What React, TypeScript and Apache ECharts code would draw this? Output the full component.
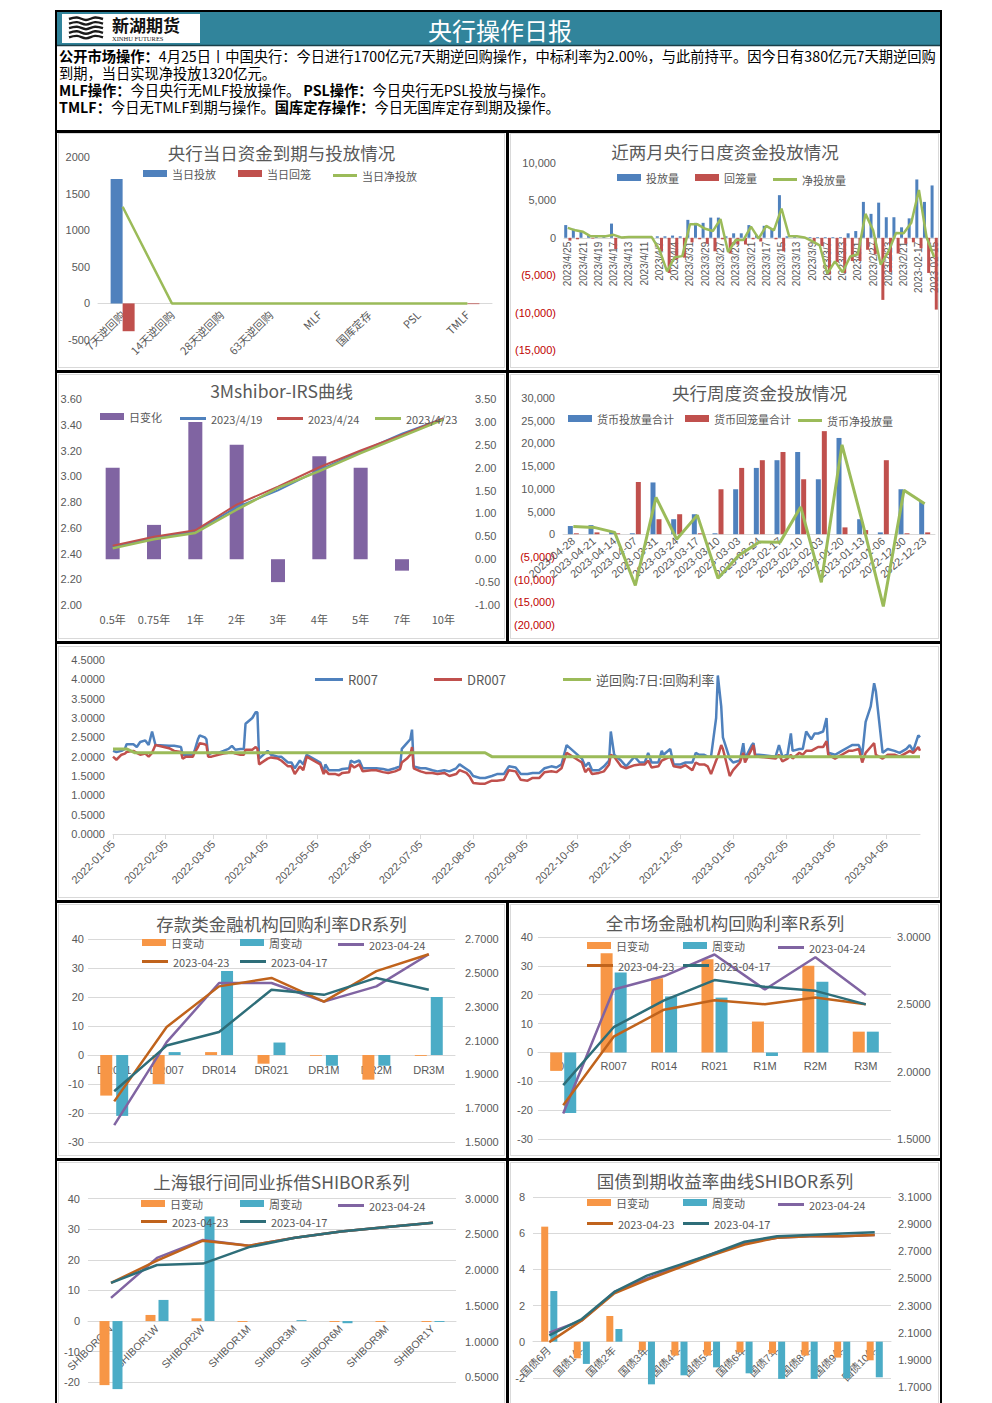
import React, { useEffect, useRef } from 'react';
import * as echarts from 'echarts';

const GRAY = '#595959';
const LINE_GRAY = '#D9D9D9';
const NEG_RED = '#C00000';
const BLUE = '#4F81BD';
const RED = '#C0504D';
const GREEN = '#9BBB59';
const PURPLE = '#8064A2';
const ORANGE = '#F79646';
const TEAL = '#4BACC6';
const BROWN = '#C0631C';
const DTEAL = '#2E6E79';
const HEADER = '#31849B';
const NUM_FONT = '"Liberation Sans", "Noto Sans CJK SC", sans-serif';
const CJK_FONT = '"Noto Sans CJK SC", "Liberation Sans", sans-serif';

// ---------- Chart 1: 央行当日资金到期与投放情况 ----------
const opCategories = ['7天逆回购', '14天逆回购', '28天逆回购', '63天逆回购', 'MLF', '国库定存', 'PSL', 'TMLF'];
const opInject = [1700, 0, 0, 0, 0, 0, 0, 0];
const opWithdraw = [-380, 0, 0, 0, 0, 0, 0, -10];
const opNet = [1320, 0, 0, 0, 0, 0, 0, 0];

// ---------- Chart 2: 近两月央行日度资金投放情况 ----------
const dailyDates = [
  '2023/4/25', '2023/4/24', '2023/4/21', '2023/4/20', '2023/4/19', '2023/4/18', '2023/4/17', '2023/4/14',
  '2023/4/13', '2023/4/12', '2023/4/11', '2023/4/10', '2023/4/7', '2023/4/6', '2023/4/4', '2023/4/3',
  '2023/3/31', '2023/3/30', '2023/3/29', '2023/3/28', '2023/3/27', '2023/3/24', '2023/3/23', '2023/3/22',
  '2023/3/21', '2023/3/20', '2023/3/17', '2023/3/16', '2023/3/15', '2023/3/14', '2023/3/13', '2023/3/10',
  '2023/3/9', '2023/3/8', '2023/3/7', '2023/3/6', '2023/3/3', '2023/3/2', '2023/3/1', '2023/2/28',
  '2023/2/27', '2023/2/24', '2023/2/23', '2023/2/22', '2023/2/21', '2023/2/20', '2023-02-17', '2023-02-16',
  '2023-02-15',
];
const dailyInject = [
  1700, 1200, 800, 300, 200, 200, 1900, 100, 100, 100, 100, 100, 200, 200, 300, 200,
  2400, 2000, 2000, 2700, 2700, 200, 600, 600, 1700, 400, 1600, 1200, 5700, 200, 200, 100,
  100, 100, 100, 100, 100, 600, 900, 4800, 3200, 4700, 2750, 2750, 1400, 2600, 7800, 4800,
  7000,
];
const dailyWithdraw = [
  -380, -200, 0, -100, 0, 0, -1500, -50, 0, 0, 0, 0, -1800, -4700, -2900, -2650,
  -600, -200, -800, -1800, -200, -2100, -900, -900, -200, -500, 0, -200, -1800, 0, 0, -50,
  -550, -1100, -4900, -3250, -4700, -3100, -3100, -1600, -2200, -8300, -4600, -2100, -800, -600, -1400, -4700,
  -9600,
];
const dailyNet = [
  1320, 1000, 800, 200, 200, 200, 400, 50, 100, 100, 100, 100, -1600, -4500, -2600, -2450,
  1800, 1800, 1200, 900, 2500, -1900, -300, -300, 1500, -100, 1600, 1000, 3900, 200, 200, 50,
  -450, -1000, -4800, -3150, -4600, -2500, -2200, 3200, 1000, -3600, -1850, 650, 600, 2000, 6400, 100,
  -2600,
];

// ---------- Chart 3: 3Mshibor-IRS曲线 ----------
const irsTenors = ['0.5年', '0.75年', '1年', '2年', '3年', '4年', '5年', '7年', '10年'];
const irsChange = [2.0, 0.75, 3.0, 2.5, -0.5, 2.25, 2.0, -0.25, 0];
const irs0419 = [2.45, 2.52, 2.57, 2.76, 2.89, 3.05, 3.19, 3.33, 3.45];
const irs0424 = [2.46, 2.53, 2.58, 2.78, 2.92, 3.07, 3.2, 3.32, 3.45];
const irs0423 = [2.44, 2.51, 2.56, 2.74, 2.91, 3.04, 3.18, 3.31, 3.44];

// ---------- Chart 4: 央行周度资金投放情况 ----------
const weekDates = [
  '2023-04-28', '2023-04-21', '2023-04-14', '2023-04-07', '2023-03-31', '2023-03-24', '2023-03-17', '2023-03-10',
  '2023-03-03', '2023-02-24', '2023-02-17', '2023-02-10', '2023-02-03', '2023-01-20', '2023-01-13', '2023-01-06',
  '2022-12-30', '2022-12-23',
];
const weekInject = [1800, 2000, 600, 200, 11400, 3300, 4400, 200, 9900, 14600, 16300, 18100, 12100, 21200, 3300, 400, 9900, 7100];
const weekWithdraw = [200, 400, 200, 11500, 3300, 4400, 200, 9900, 14600, 16300, 18100, 12100, 22700, 1500, 900, 16300, 200, 400];
const weekNet = [1700, 1500, 400, -11300, 8100, -1100, 4200, -9700, -4700, -1700, -1800, 6000, -10600, 19700, 2400, -15900, 9700, 6700];

// ---------- Chart 5: R007 / DR007 / 逆回购7日 ----------
const rateDates = [
  '2022-01-05', '2022-01-07', '2022-01-10', '2022-01-12', '2022-01-13', '2022-01-17', '2022-01-19', '2022-01-21',
  '2022-01-24', '2022-01-26', '2022-01-28', '2022-01-30', '2022-02-07', '2022-02-10', '2022-02-14', '2022-02-15',
  '2022-02-17', '2022-02-21', '2022-02-22', '2022-02-24', '2022-02-25', '2022-02-28', '2022-03-01', '2022-03-02',
  '2022-03-04', '2022-03-08', '2022-03-11', '2022-03-14', '2022-03-16', '2022-03-18', '2022-03-21', '2022-03-23',
  '2022-03-24', '2022-03-28', '2022-03-30', '2022-03-31', '2022-04-01', '2022-04-06', '2022-04-08', '2022-04-12',
  '2022-04-14', '2022-04-18', '2022-04-20', '2022-04-22', '2022-04-25', '2022-04-27', '2022-04-29', '2022-05-05',
  '2022-05-07', '2022-05-09', '2022-05-10', '2022-05-12', '2022-05-16', '2022-05-18', '2022-05-20', '2022-05-24',
  '2022-05-25', '2022-05-27', '2022-05-30', '2022-06-01', '2022-06-06', '2022-06-09', '2022-06-13', '2022-06-16',
  '2022-06-20', '2022-06-23', '2022-06-24', '2022-06-27', '2022-06-29', '2022-06-30', '2022-07-01', '2022-07-05',
  '2022-07-08', '2022-07-12', '2022-07-15', '2022-07-19', '2022-07-22', '2022-07-26', '2022-07-28', '2022-08-01',
  '2022-08-03', '2022-08-05', '2022-08-09', '2022-08-12', '2022-08-16', '2022-08-19', '2022-08-23', '2022-08-26',
  '2022-08-30', '2022-09-02', '2022-09-06', '2022-09-09', '2022-09-13', '2022-09-16', '2022-09-20', '2022-09-23',
  '2022-09-26', '2022-09-29', '2022-10-08', '2022-10-10', '2022-10-12', '2022-10-14', '2022-10-18', '2022-10-21',
  '2022-10-24', '2022-10-25', '2022-10-27', '2022-10-31', '2022-11-03', '2022-11-08', '2022-11-11', '2022-11-14',
  '2022-11-16', '2022-11-18', '2022-11-22', '2022-11-24', '2022-11-25', '2022-11-29', '2022-12-01', '2022-12-05',
  '2022-12-08', '2022-12-12', '2022-12-14', '2022-12-16', '2022-12-19', '2022-12-21', '2022-12-23', '2022-12-26',
  '2022-12-27', '2022-12-29', '2022-12-30', '2023-01-03', '2023-01-05', '2023-01-09', '2023-01-11', '2023-01-12',
  '2023-01-16', '2023-01-17', '2023-01-18', '2023-01-20', '2023-01-30', '2023-02-01', '2023-02-03', '2023-02-06',
  '2023-02-08', '2023-02-09', '2023-02-13', '2023-02-15', '2023-02-17', '2023-02-20', '2023-02-22', '2023-02-24',
  '2023-02-27', '2023-03-01', '2023-03-02', '2023-03-06', '2023-03-08', '2023-03-10', '2023-03-14', '2023-03-16',
  '2023-03-20', '2023-03-22', '2023-03-24', '2023-03-27', '2023-03-29', '2023-03-30', '2023-04-03', '2023-04-06',
  '2023-04-10', '2023-04-13', '2023-04-17', '2023-04-19', '2023-04-21', '2023-04-24', '2023-04-25',
];
const r007 = [
  2.15, 2.12, 2.15, 2.2, 2.32, 2.32, 2.25, 2.38, 2.42, 2.3, 2.65, 2.3, 2.28, 2.28, 2.25, 2.05,
  2.05, 2.05, 2.15, 2.45, 2.55, 2.5, 2.45, 2.05, 2.1, 2.1, 2.15, 2.2, 2.28, 2.18, 2.2, 2.2,
  2.85, 3.0, 3.15, 3.15, 1.95, 2.15, 2.05, 2.0, 2.0, 1.85, 1.85, 1.7, 1.9, 1.8, 2.05, 1.9,
  1.85, 1.6, 1.8, 1.65, 1.65, 1.65, 1.68, 1.7, 1.9, 1.85, 1.9, 1.7, 1.7, 1.7, 1.68, 1.65,
  1.7, 1.75, 2.2, 2.35, 2.45, 2.7, 1.75, 1.7, 1.7, 1.65, 1.62, 1.65, 1.62, 1.7, 1.8, 1.68,
  1.62, 1.5, 1.45, 1.45, 1.5, 1.55, 1.55, 1.75, 1.72, 1.55, 1.55, 1.58, 1.58, 1.7, 1.75, 1.72,
  1.8, 2.3, 1.95, 1.75, 1.85, 1.65, 1.65, 1.75, 1.9, 2.65, 2.05, 1.9, 1.75, 2.0, 1.85, 1.85,
  2.1, 1.85, 1.85, 2.15, 2.05, 2.2, 1.8, 1.8, 1.85, 1.85, 2.1, 2.05, 2.05, 2.0, 2.0, 3.0,
  4.1, 3.3, 2.5, 1.95, 1.85, 1.9, 2.35, 1.95, 2.3, 2.35, 2.05, 2.05, 2.0, 2.3, 2.0, 2.05,
  2.6, 2.15, 2.2, 2.2, 2.65, 2.45, 2.6, 2.6, 2.65, 3.0, 2.1, 2.05, 2.1, 2.15, 2.25, 2.3,
  2.3, 2.05, 2.9, 3.3, 3.9, 3.7, 2.1, 2.2, 2.15, 2.1, 2.2, 2.3, 2.15, 2.55, 2.5,
];
const dr007 = [
  2.0, 1.92, 2.05, 2.08, 2.12, 2.15, 2.1, 2.05, 2.08, 2.0, 2.1, 2.3, 2.22, 2.15, 2.12, 1.95,
  2.0, 2.0, 2.1, 2.25, 2.35, 2.32, 2.3, 2.0, 2.0, 2.05, 2.08, 2.1, 2.12, 2.08, 2.05, 2.05,
  2.18, 2.18, 2.25, 2.2, 1.8, 1.95, 1.98, 1.95, 1.9, 1.75, 1.75, 1.55, 1.75, 1.65, 2.0, 1.85,
  1.8, 1.55, 1.65, 1.55, 1.55, 1.52, 1.58, 1.6, 1.8, 1.72, 1.8, 1.62, 1.65, 1.65, 1.6, 1.58,
  1.62, 1.68, 1.85, 1.95, 2.05, 2.25, 1.7, 1.62, 1.58, 1.58, 1.55, 1.58, 1.5, 1.55, 1.65, 1.58,
  1.48, 1.32, 1.3, 1.3, 1.38, 1.38, 1.4, 1.65, 1.62, 1.4, 1.38, 1.45, 1.45, 1.6, 1.62, 1.6,
  1.7, 2.1, 1.85, 1.6, 1.7, 1.55, 1.58, 1.62, 1.8, 2.05, 2.0, 1.75, 1.7, 1.78, 1.8, 1.8,
  1.9, 1.72, 1.75, 1.9, 1.92, 2.0, 1.75, 1.72, 1.78, 1.65, 1.85, 1.8, 1.8, 1.75, 1.55, 1.9,
  2.0, 2.3, 2.2, 1.5, 1.65, 1.85, 2.1, 1.85, 2.2, 2.3, 2.0, 2.0, 1.95, 2.05, 1.88, 1.95,
  2.05, 1.95, 2.1, 2.05, 2.15, 2.15, 2.2, 2.25, 2.25, 2.4, 2.05, 1.95, 2.0, 2.05, 2.15, 2.15,
  2.2, 1.85, 2.1, 2.25, 2.35, 2.05, 1.95, 2.05, 2.05, 2.0, 2.1, 2.15, 2.1, 2.25, 2.15,
];
const repoDates = ['2022-01-05', '2022-01-13', '2022-01-18', '2022-08-12', '2022-08-16', '2023-04-25'];
const repoRate = [2.2, 2.2, 2.1, 2.1, 2.0, 2.0];
const rateTickDay = '05';

// ---------- Chart 6: DR系列 ----------
const drCats = ['DR001', 'DR007', 'DR014', 'DR021', 'DR1M', 'DR2M', 'DR3M'];
const drDay = [-14, -10, 1, -3, -0.3, -8.5, -0.3];
const drWeek = [-21, 1, 29, 4.3, -3.7, -3.7, 20];
const dr0424 = [1.6, 2.09, 2.44, 2.44, 2.33, 2.42, 2.61];
const dr0423 = [1.74, 2.18, 2.42, 2.47, 2.33, 2.51, 2.61];
const dr0417 = [1.8, 2.07, 2.15, 2.4, 2.37, 2.47, 2.4];

// ---------- Chart 7: R系列 ----------
const rCats = ['R001', 'R007', 'R014', 'R021', 'R1M', 'R2M', 'R3M'];
const rDay = [-6.4, 34.4, 25.7, 32.3, 10.7, 30, 7.2];
const rWeek = [-21, 27.7, 19.4, 19, -1.2, 24.5, 7.2];
const r0424 = [1.69, 2.61, 2.71, 2.87, 2.61, 2.85, 2.57];
const r0423 = [1.75, 2.26, 2.46, 2.53, 2.5, 2.55, 2.5];
const r0417 = [1.9, 2.33, 2.53, 2.68, 2.63, 2.6, 2.5];

// ---------- Chart 8: SHIBOR系列 ----------
const shiborCats = ['SHIBORO/N', 'SHIBOR1W', 'SHIBOR2W', 'SHIBOR1M', 'SHIBOR3M', 'SHIBOR6M', 'SHIBOR9M', 'SHIBOR1Y'];
const shiborDay = [-20.9, 2.0, 0.9, -0.3, 0, -0.3, -0.3, -0.3];
const shiborWeek = [-22.2, 6.9, 34.1, 0, 0.3, -0.7, 0, -0.3];
const sh0424 = [1.61, 2.17, 2.42, 2.34, 2.45, 2.54, 2.6, 2.66];
const sh0423 = [1.82, 2.13, 2.41, 2.34, 2.45, 2.54, 2.6, 2.66];
const sh0417 = [1.82, 2.07, 2.09, 2.32, 2.45, 2.54, 2.6, 2.66];

// ---------- Chart 9: 国债收益率 ----------
const bondCats = ['国债6月', '国债1年', '国债2年', '国债3年', '国债4年', '国债5年', '国债6年', '国债7年', '国债8年', '国债9年', '国债10年'];
const bondDay = [6.36, -0.92, 1.42, -0.48, -0.77, -0.77, -0.59, -0.65, -0.77, -0.88, -1.03];
const bondWeek = [2.8, -1.23, 0.7, -2.36, -1.86, -1.42, -1.75, -2.06, -2.06, -2.03, -1.97];
const bond0424 = [2.1, 2.19, 2.4, 2.5, 2.59, 2.68, 2.76, 2.8, 2.81, 2.81, 2.82];
const bond0423 = [2.03, 2.19, 2.39, 2.49, 2.58, 2.67, 2.75, 2.8, 2.81, 2.81, 2.82];
const bond0417 = [2.08, 2.2, 2.4, 2.52, 2.6, 2.68, 2.77, 2.81, 2.82, 2.83, 2.84];

// ---------- Header text ----------
const headerTitle = '央行操作日报';
const headerLines = [
  '{b|公开市场操作：}4月25日丨中国央行：今日进行1700亿元7天期逆回购操作，中标利率为2.00%，与此前持平。因今日有380亿元7天期逆回购',
  '到期，当日实现净投放1320亿元。',
  '{b|MLF操作：}今日央行无MLF投放操作。 {b|PSL操作：}今日央行无PSL投放与操作。',
  '{b|TMLF：}今日无TMLF到期与操作。{b|国库定存操作：}今日无国库定存到期及操作。',
];

// ---------- helpers ----------
const rateAxisDays = (() => {
  const out: string[] = [];
  const d = new Date(Date.UTC(2022, 0, 5));
  const end = Date.UTC(2023, 3, 25);
  while (d.getTime() <= end) {
    out.push(d.toISOString().slice(0, 10));
    d.setUTCDate(d.getUTCDate() + 1);
  }
  return out;
})();

const commas = (n: number) => String(Math.round(Math.abs(n))).replace(/\B(?=(\d{3})+(?!\d))/g, ',');
const acct = (v: number) => (v < 0 ? `(${commas(v)})` : commas(v));
const negColor = (v: any) => (Number(v) < 0 ? NEG_RED : GRAY);
const plain = (v: number) => String(v);

// distance of the value 0 above the bottom of a grid (used to lift the category axis to zero)
const zeroLift = (min: number, max: number, h: number) => -(h * (0 - min)) / (max - min);

const titleAt = (text: string, left: any, top: number) => ({
  text,
  left,
  top,
  padding: 0,
  textStyle: { fontSize: 17.5, fontWeight: 'normal', color: GRAY, fontFamily: CJK_FONT },
});

const legendAt = (name: string, left: number, top: number, isLine = false, fontSize = 11, itemWidth = 24) => ({
  data: [name],
  left,
  top,
  padding: 0,
  icon: 'rect',
  itemWidth,
  itemHeight: isLine ? 3 : 7,
  selectedMode: false,
  textStyle: { color: GRAY, fontSize, fontFamily: CJK_FONT },
});

const lineS = (name: string, data: any[], color: string, width = 2.5, yAxisIndex = 0) => ({
  name,
  type: 'line',
  yAxisIndex,
  data,
  symbol: 'none',
  showSymbol: false,
  lineStyle: { color, width },
  itemStyle: { color },
});

const valueAxis = (min: number, max: number, interval: number, extra: any = {}) => ({
  type: 'value',
  min,
  max,
  interval,
  axisLine: { show: false },
  axisTick: { show: false },
  splitLine: { show: extra.split === true, lineStyle: { color: LINE_GRAY } },
  position: extra.position,
  axisLabel: {
    color: extra.color || GRAY,
    fontSize: 11,
    fontFamily: NUM_FONT,
    margin: extra.margin ?? 8,
    formatter: extra.formatter || plain,
    showMinLabel: extra.hideMin ? false : undefined,
  },
});

const catAxis = (data: string[], offset: number, label: any, line = true) => ({
  type: 'category',
  data,
  offset,
  axisLine: { show: line, onZero: false, lineStyle: { color: LINE_GRAY } },
  axisTick: { show: false },
  axisLabel: { interval: 0, color: GRAY, fontSize: 11, fontFamily: CJK_FONT, ...label },
});

function Chart({ option, box }: { option: any; box: number[] }) {
  const ref = useRef<HTMLDivElement>(null);
  useEffect(() => {
    const c = echarts.init(ref.current as HTMLDivElement, null, { renderer: 'svg' });
    c.setOption(option);
    return () => c.dispose();
  }, []);
  return (
    <div
      ref={ref}
      style={{ position: 'absolute', left: box[0], top: box[1], width: box[2], height: box[3] }}
    />
  );
}

// ---------- options ----------
const headerOption = {
  animation: false,
  graphic: [
    { type: 'rect', shape: { x: 0, y: 0, width: 883, height: 33 }, style: { fill: HEADER } },
    { type: 'line', shape: { x1: 0, y1: 33.5, x2: 883, y2: 33.5 }, style: { stroke: '#1b3f48', lineWidth: 1.5 } },
    { type: 'rect', shape: { x: 5, y: 2, width: 138, height: 29 }, style: { fill: '#ffffff' } },
    ...[0, 1, 2, 3, 4].map((k) => ({
      type: 'polyline',
      shape: {
        points: [[12, 7 + k * 4.6], [20, 5.5 + k * 4.6], [29, 8 + k * 4.6], [38, 5.5 + k * 4.6], [46, 7 + k * 4.6]],
        smooth: 0.4,
      },
      style: { stroke: '#1a1a1a', lineWidth: 2.4, fill: 'none' },
    })),
    {
      type: 'text',
      x: 55,
      y: 12,
      style: {
        text: '新湖期货', fill: '#111', fontSize: 17, fontWeight: 'bold', fontFamily: CJK_FONT, lineHeight: 17,
        verticalAlign: 'middle', textVerticalAlign: 'middle',
      },
    },
    {
      type: 'text',
      x: 55,
      y: 26,
      style: {
        text: 'XINHU FUTURES', fill: '#222', fontSize: 6.5, fontFamily: '"Liberation Serif", serif', lineHeight: 7,
        verticalAlign: 'middle', textVerticalAlign: 'middle',
      },
    },
    {
      type: 'text',
      x: 443,
      y: 17,
      style: {
        text: headerTitle, fill: '#ffffff', fontSize: 24, fontFamily: CJK_FONT,
        align: 'center', textAlign: 'center', verticalAlign: 'middle', textVerticalAlign: 'middle',
      },
    },
    ...headerLines.map((t, i) => ({
      type: 'text',
      x: 2,
      y: 43 + i * 17,
      style: {
        text: t,
        fill: '#000', fontSize: 14.25, fontFamily: CJK_FONT, lineHeight: 16,
        verticalAlign: 'middle', textVerticalAlign: 'middle',
        rich: { b: { fontWeight: 'bold', fontSize: 14.25, lineHeight: 16, fontFamily: CJK_FONT, fill: '#000', color: '#000' } },
      },
    })),
  ],
};

const chart1 = {
  animation: false,
  title: titleAt('央行当日资金到期与投放情况', 'center', 11),
  legend: [legendAt('当日投放', 85, 35), legendAt('当日回笼', 180, 35), legendAt('当日净投放', 275, 37, true)],
  grid: { left: 40, top: 24, width: 394, height: 183, outerBoundsMode: 'none' },
  xAxis: catAxis(opCategories, zeroLift(-500, 2000, 183), { rotate: 45, margin: 9 }),
  yAxis: valueAxis(-500, 2000, 500),
  series: [
    { name: '当日投放', type: 'bar', data: opInject, barWidth: 12, barGap: '0%', itemStyle: { color: BLUE } },
    { name: '当日回笼', type: 'bar', data: opWithdraw, barWidth: 12, itemStyle: { color: RED } },
    lineS('当日净投放', opNet, GREEN, 2.5),
  ],
};

const chart2 = {
  animation: false,
  title: titleAt('近两月央行日度资金投放情况', 'center', 10),
  legend: [legendAt('投放量', 107, 39), legendAt('回笼量', 185, 39), legendAt('净投放量', 263, 41, true)],
  grid: { left: 54, top: 30, width: 374, height: 187, outerBoundsMode: 'none' },
  xAxis: catAxis(dailyDates, zeroLift(-15000, 10000, 187), {
    rotate: 90, interval: 1, fontSize: 10, margin: 4, fontFamily: NUM_FONT,
  }),
  yAxis: valueAxis(-15000, 10000, 5000, { formatter: acct, color: negColor }),
  series: [
    { name: '投放量', type: 'bar', data: dailyInject, barWidth: 3, barGap: '40%', itemStyle: { color: BLUE } },
    { name: '回笼量', type: 'bar', data: dailyWithdraw, barWidth: 3, itemStyle: { color: RED } },
    lineS('净投放量', dailyNet, GREEN, 2.5),
  ],
};

const chart3 = {
  animation: false,
  title: { ...titleAt('3Mshibor-IRS曲线', 'center', 9) },
  legend: [
    legendAt('日变化', 42, 38),
    legendAt('2023/4/19', 122, 40, true, 11, 26),
    legendAt('2023/4/24', 219, 40, true, 11, 26),
    legendAt('2023/4/23', 317, 40, true, 11, 26),
  ],
  grid: { left: 34, top: 26, width: 372, height: 206, outerBoundsMode: 'none' },
  xAxis: catAxis(irsTenors, 0, { margin: 8 }, false),
  yAxis: [
    valueAxis(2.0, 3.6, 0.2, { formatter: (v: number) => v.toFixed(2), margin: 10 }),
    valueAxis(-1, 3.5, 0.5, { formatter: (v: number) => v.toFixed(2), margin: 11, position: 'right' }),
  ],
  series: [
    { name: '日变化', type: 'bar', yAxisIndex: 1, data: irsChange, barWidth: 14, itemStyle: { color: PURPLE } },
    lineS('2023/4/19', irs0419, BLUE, 2),
    lineS('2023/4/24', irs0424, RED, 2),
    lineS('2023/4/23', irs0423, GREEN, 2.5),
  ],
};

const chart4 = {
  animation: false,
  title: titleAt('央行周度资金投放情况', 162, 11),
  legend: [legendAt('货币投放量合计', 58, 40), legendAt('货币回笼量合计', 175, 40), legendAt('货币净投放量', 288, 42, true)],
  grid: { left: 53, top: 25, width: 372, height: 227, outerBoundsMode: 'none' },
  xAxis: catAxis(weekDates, zeroLift(-20000, 30000, 227), { rotate: 40, margin: 5, fontFamily: NUM_FONT }),
  yAxis: valueAxis(-20000, 30000, 5000, { formatter: acct, color: negColor }),
  series: [
    { name: '货币投放量合计', type: 'bar', data: weekInject, barWidth: 5, barGap: '20%', itemStyle: { color: BLUE } },
    { name: '货币回笼量合计', type: 'bar', data: weekWithdraw, barWidth: 5, itemStyle: { color: RED } },
    lineS('货币净投放量', weekNet, GREEN, 3),
  ],
};

const isFifth = (_i: number, v: string) => v.slice(8) === rateTickDay;
const chart5 = {
  animation: false,
  legend: [
    legendAt('R007', 257, 26, true, 13, 28),
    legendAt('DR007', 376, 26, true, 13, 28),
    legendAt('逆回购:7日:回购利率', 505, 26, true, 13, 28),
  ],
  grid: { left: 55, top: 13, width: 807, height: 174, outerBoundsMode: 'none' },
  xAxis: {
    type: 'category',
    data: rateAxisDays,
    boundaryGap: false,
    axisLine: { lineStyle: { color: LINE_GRAY } },
    axisTick: { show: true, alignWithLabel: true, interval: isFifth, length: 5, lineStyle: { color: LINE_GRAY } },
    axisLabel: { interval: isFifth, rotate: 45, color: GRAY, fontSize: 11, margin: 8, fontFamily: NUM_FONT },
  },
  yAxis: valueAxis(0, 4.5, 0.5, { formatter: (v: number) => v.toFixed(4) }),
  series: [
    lineS('R007', rateDates.map((d, i) => [d, r007[i]]), BLUE, 2.5),
    lineS('DR007', rateDates.map((d, i) => [d, dr007[i]]), RED, 2.5),
    lineS('逆回购:7日:回购利率', repoDates.map((d, i) => [d, repoRate[i]]), GREEN, 3),
  ],
};

function dualOption(p: any) {
  return {
    animation: false,
    title: titleAt(p.title, 'center', p.titleTop),
    legend: [
      legendAt('日变动', p.lx[0], p.ly[0]),
      legendAt('周变动', p.lx[1], p.ly[0]),
      legendAt('2023-04-24', p.lx[2], p.ly[0] + 2, true, 11, 26),
      legendAt('2023-04-23', p.lx[0], p.ly[1] + 2, true, 11, 26),
      legendAt('2023-04-17', p.lx[1], p.ly[1] + 2, true, 11, 26),
    ],
    grid: { ...p.grid, outerBoundsMode: 'none' },
    xAxis: catAxis(p.cats, zeroLift(p.left[0], p.left[1], p.grid.height), {
      rotate: p.rotate || 0,
      fontSize: p.labelSize || 11,
      margin: p.labelMargin,
      fontFamily: NUM_FONT,
    }),
    yAxis: [
      valueAxis(p.left[0], p.left[1], p.left[2], { split: true, margin: p.lm, hideMin: p.hideMin }),
      valueAxis(p.right[0], p.right[1], p.right[2], {
        position: 'right',
        margin: p.rm,
        hideMin: p.hideMin,
        formatter: (v: number) => v.toFixed(4),
      }),
    ],
    series: [
      { name: '日变动', type: 'bar', data: p.day, barWidth: p.bw, barGap: p.gap, itemStyle: { color: ORANGE } },
      { name: '周变动', type: 'bar', data: p.week, barWidth: p.bw, itemStyle: { color: TEAL } },
      lineS('2023-04-24', p.l24, PURPLE, 2.5, 1),
      lineS('2023-04-23', p.l23, BROWN, 2.5, 1),
      lineS('2023-04-17', p.l17, DTEAL, 2.5, 1),
    ],
  };
}

const chart6 = dualOption({
  title: '存款类金融机构回购利率DR系列', titleTop: 10,
  lx: [84, 182, 280], ly: [32, 49],
  grid: { left: 30, top: 34, width: 367, height: 203 },
  cats: drCats, labelMargin: 9,
  left: [-30, 40, 10], right: [1.5, 2.7, 0.2], lm: 4, rm: 10,
  day: drDay, week: drWeek, bw: 12, gap: '33%',
  l24: dr0424, l23: dr0423, l17: dr0417,
});

const chart7 = dualOption({
  title: '全市场金融机构回购利率R系列', titleTop: 9,
  lx: [77, 173, 268], ly: [35, 53],
  grid: { left: 28, top: 32, width: 353, height: 202 },
  cats: rCats, labelMargin: 8,
  left: [-30, 40, 10], right: [1.5, 3.0, 0.5], lm: 5, rm: 6,
  day: rDay, week: rWeek, bw: 12, gap: '17%',
  l24: r0424, l23: r0423, l17: r0417,
});

const chart8 = dualOption({
  title: '上海银行间同业拆借SHIBOR系列', titleTop: 11,
  lx: [83, 182, 280], ly: [36, 52],
  grid: { left: 30, top: 36.5, width: 368, height: 214.5 },
  cats: shiborCats, labelMargin: 6, rotate: 45, labelSize: 10.5,
  left: [-30, 40, 10], right: [0, 3.0, 0.5], lm: 8, rm: 9, hideMin: true,
  day: shiborDay, week: shiborWeek, bw: 10, gap: '30%',
  l24: sh0424, l23: sh0423, l17: sh0417,
});

const chart9 = dualOption({
  title: '国债到期收益率曲线SHIBOR系列', titleTop: 10,
  lx: [77, 173, 268], ly: [35, 54],
  grid: { left: 23, top: 35, width: 358, height: 217 },
  cats: bondCats, labelMargin: 7, rotate: 45, labelSize: 10.5,
  left: [-4, 8, 2], right: [1.5, 3.1, 0.2], lm: 8, rm: 7, hideMin: true,
  day: bondDay, week: bondWeek, bw: 7, gap: '30%',
  l24: bond0424, l23: bond0423, l17: bond0417,
});

const blackBars: number[][] = [
  [55, 130, 887, 3],
  [55, 370, 887, 3],
  [55, 641, 887, 3],
  [55, 900, 887, 3],
  [55, 1158, 887, 3],
  [506, 130, 3, 512],
  [506, 900, 3, 510],
];
const panelBorders: number[][] = [
  [58, 133, 447, 235],
  [510, 133, 429, 235],
  [58, 374, 447, 265],
  [510, 374, 429, 265],
  [58, 646, 881, 252],
  [58, 904, 447, 252],
  [510, 904, 429, 252],
  [58, 1162, 447, 260],
  [510, 1162, 429, 260],
];

export default function App() {
  return (
    <div
      style={{
        position: 'absolute', left: 0, top: 0, width: 992, height: 1403,
        overflow: 'hidden', background: '#ffffff',
      }}
    >
      <div
        style={{
          position: 'absolute', left: 55, top: 10, width: 887, height: 1420,
          border: '2px solid #000', boxSizing: 'border-box',
        }}
      />
      {panelBorders.map((b, i) => (
        <div
          key={'p' + i}
          style={{
            position: 'absolute', left: b[0], top: b[1], width: b[2], height: b[3],
            border: '1px solid #D9D9D9', boxSizing: 'border-box',
          }}
        />
      ))}
      {blackBars.map((b, i) => (
        <div key={'b' + i} style={{ position: 'absolute', left: b[0], top: b[1], width: b[2], height: b[3], background: '#000' }} />
      ))}
      <Chart option={headerOption} box={[57, 12, 883, 118]} />
      <Chart option={chart1} box={[58, 133, 447, 235]} />
      <Chart option={chart2} box={[510, 133, 430, 235]} />
      <Chart option={chart3} box={[58, 373, 447, 267]} />
      <Chart option={chart4} box={[510, 373, 430, 267]} />
      <Chart option={chart5} box={[58, 647, 882, 252]} />
      <Chart option={chart6} box={[58, 905, 447, 252]} />
      <Chart option={chart7} box={[510, 905, 430, 252]} />
      <Chart option={chart8} box={[58, 1162, 447, 260]} />
      <Chart option={chart9} box={[510, 1162, 430, 260]} />
    </div>
  );
}
